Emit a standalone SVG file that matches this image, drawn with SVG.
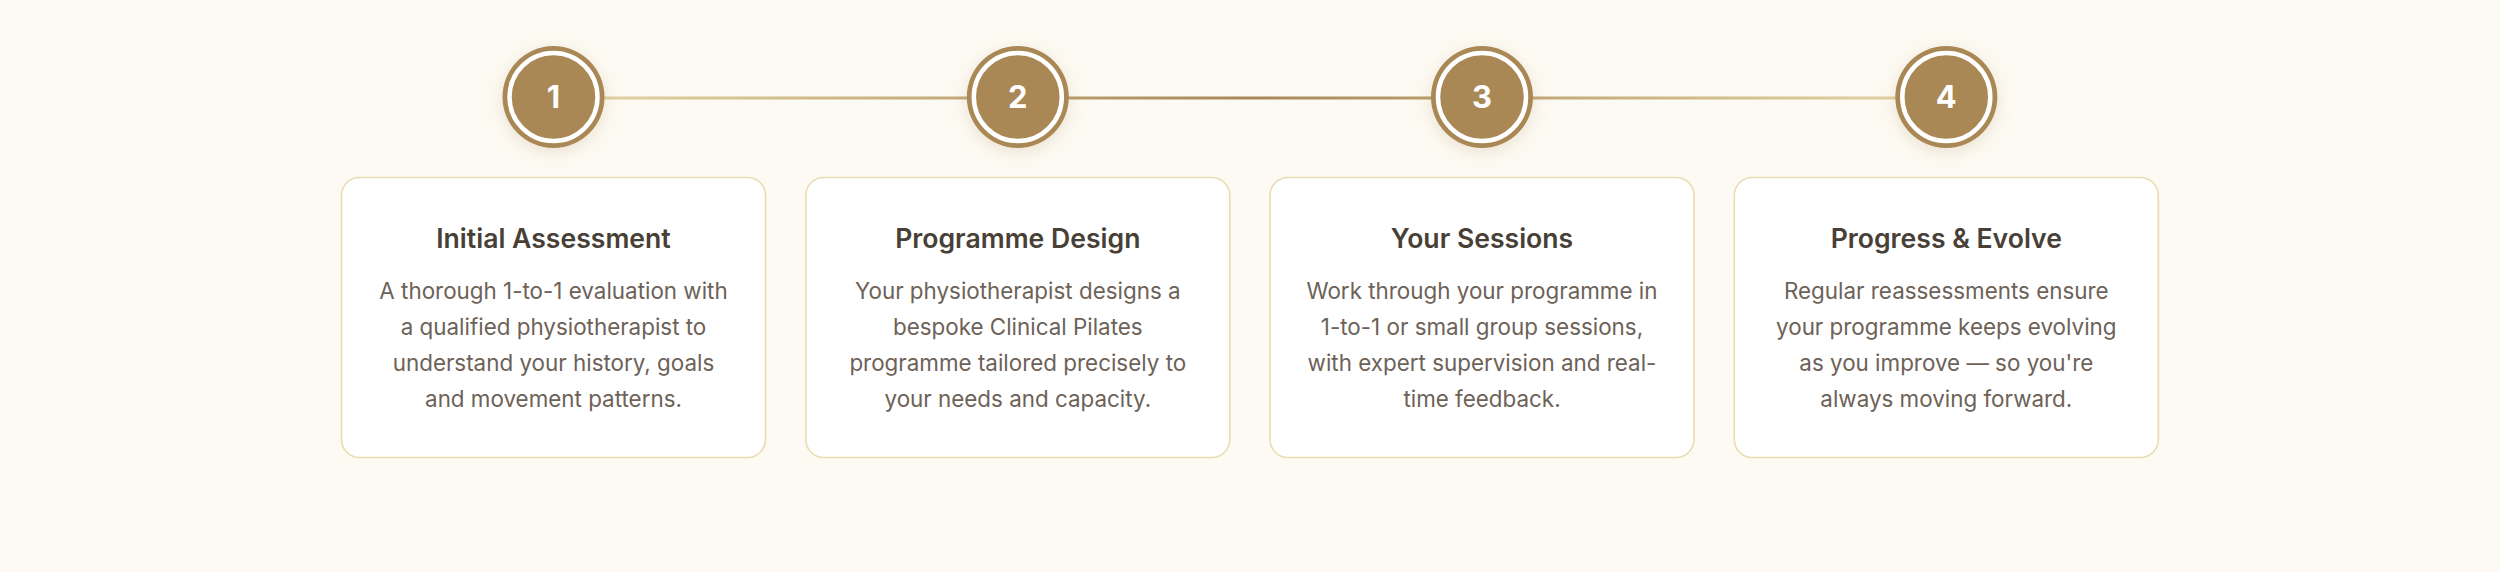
<svg xmlns="http://www.w3.org/2000/svg" width="2500" height="572" viewBox="0 0 2500 572">
<defs>
<linearGradient id="lineGrad" x1="553" y1="0" x2="1946" y2="0" gradientUnits="userSpaceOnUse">
<stop offset="0" stop-color="#E6D6A8"/>
<stop offset="0.5" stop-color="#A88856"/>
<stop offset="1" stop-color="#E6D6A8"/>
</linearGradient>
<filter id="glow" x="-50%" y="-50%" width="200%" height="200%">
<feDropShadow dx="0" dy="4" stdDeviation="8" flood-color="#A88856" flood-opacity="0.22"/>
</filter>
<style>
.bg{fill:#FDFAF3}
.card{fill:#FFFFFF;stroke:#EADCB0;stroke-width:1.6}
.ring{fill:#A98856}
.inner{fill:none;stroke:#FFFFFF;stroke-width:4.5}
.num{font-family:Inter,"Noto Sans",sans-serif;font-weight:700;font-size:31px;fill:#FFFFFF;text-anchor:middle}
.title{font-family:Inter,"Noto Sans",sans-serif;font-weight:600;font-size:26.6px;fill:#483F37;text-anchor:middle}
.body{font-family:Inter,"Noto Sans",sans-serif;font-weight:400;font-size:22.4px;fill:#6D6258;text-anchor:middle}
</style>
</defs>
<rect class="bg" x="0" y="0" width="2500" height="572"/>
<g id="connectors">
<line x1="553" y1="98" x2="1946" y2="98" stroke="url(#lineGrad)" stroke-width="3"/>
</g>
<g id="step1">
<circle class="ring" cx="553.5" cy="97" r="51" filter="url(#glow)"/>
<circle class="inner" cx="553.5" cy="97" r="44"/>
<text class="num" x="553.5" y="108">1</text>
<rect class="card" x="341.5" y="177.5" width="424" height="280" rx="18"/>
<text class="title" x="553.5" y="248">Initial Assessment</text>
<text class="body" x="553.5" y="299">A thorough 1-to-1 evaluation with</text>
<text class="body" x="553.5" y="335">a qualified physiotherapist to</text>
<text class="body" x="553.5" y="371">understand your history, goals</text>
<text class="body" x="553.5" y="407">and movement patterns.</text>
</g>
<g id="step2">
<circle class="ring" cx="1017.8" cy="97" r="51" filter="url(#glow)"/>
<circle class="inner" cx="1017.8" cy="97" r="44"/>
<text class="num" x="1017.8" y="108">2</text>
<rect class="card" x="805.8" y="177.5" width="424" height="280" rx="18"/>
<text class="title" x="1017.8" y="248">Programme Design</text>
<text class="body" x="1017.8" y="299">Your physiotherapist designs a</text>
<text class="body" x="1017.8" y="335">bespoke Clinical Pilates</text>
<text class="body" x="1017.8" y="371">programme tailored precisely to</text>
<text class="body" x="1017.8" y="407">your needs and capacity.</text>
</g>
<g id="step3">
<circle class="ring" cx="1482" cy="97" r="51" filter="url(#glow)"/>
<circle class="inner" cx="1482" cy="97" r="44"/>
<text class="num" x="1482" y="108">3</text>
<rect class="card" x="1270" y="177.5" width="424" height="280" rx="18"/>
<text class="title" x="1482" y="248">Your Sessions</text>
<text class="body" x="1482" y="299">Work through your programme in</text>
<text class="body" x="1482" y="335">1-to-1 or small group sessions,</text>
<text class="body" x="1482" y="371">with expert supervision and real-</text>
<text class="body" x="1482" y="407">time feedback.</text>
</g>
<g id="step4">
<circle class="ring" cx="1946.3" cy="97" r="51" filter="url(#glow)"/>
<circle class="inner" cx="1946.3" cy="97" r="44"/>
<text class="num" x="1946.3" y="108">4</text>
<rect class="card" x="1734.3" y="177.5" width="424" height="280" rx="18"/>
<text class="title" x="1946.3" y="248">Progress &amp; Evolve</text>
<text class="body" x="1946.3" y="299">Regular reassessments ensure</text>
<text class="body" x="1946.3" y="335">your programme keeps evolving</text>
<text class="body" x="1946.3" y="371">as you improve — so you're</text>
<text class="body" x="1946.3" y="407">always moving forward.</text>
</g>
</svg>
